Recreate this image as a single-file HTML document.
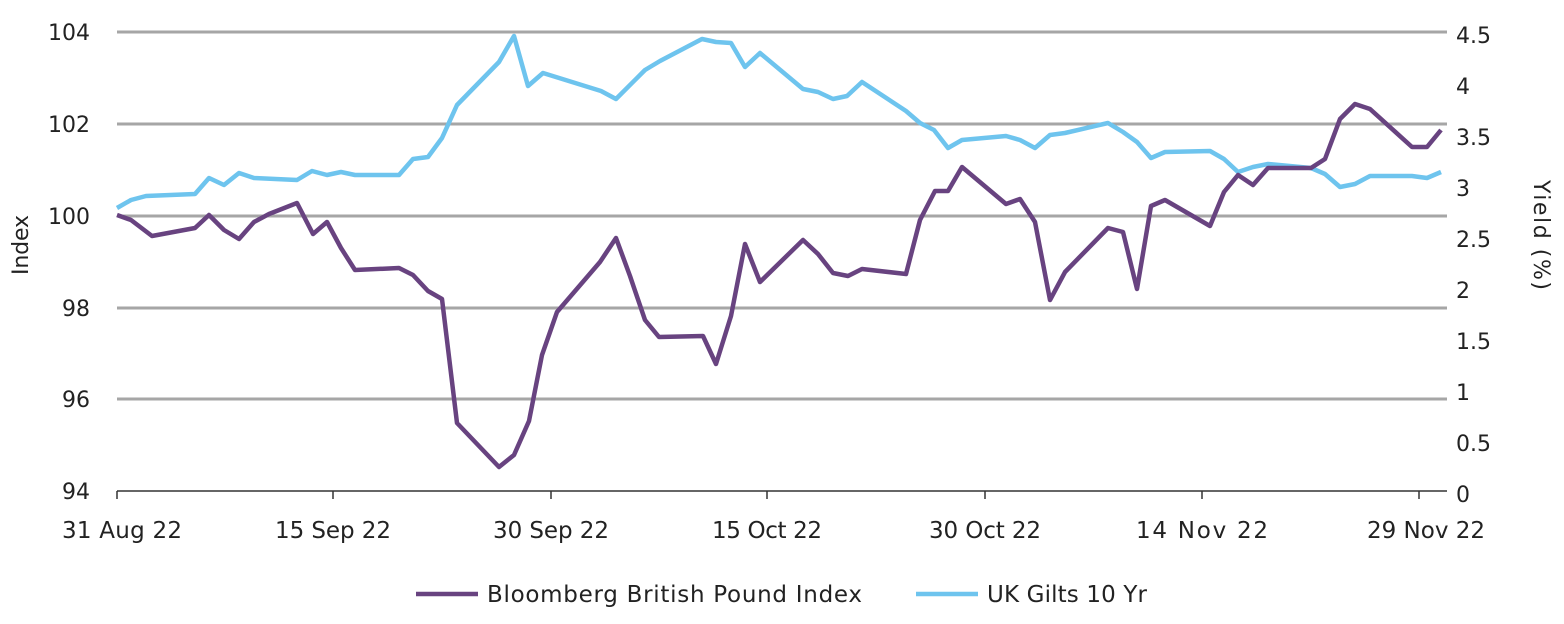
<!DOCTYPE html>
<html><head><meta charset="utf-8"><style>
html,body{margin:0;padding:0;background:#fff;}
svg{display:block;font-family:"DejaVu Sans","Liberation Sans",sans-serif;}
</style></head><body>
<svg width="1564" height="624" viewBox="0 0 1564 624" xmlns="http://www.w3.org/2000/svg">
<g stroke="#a6a6a6" stroke-width="3">
<line x1="117" y1="32" x2="1447" y2="32"/>
<line x1="117" y1="124" x2="1447" y2="124"/>
<line x1="117" y1="216" x2="1447" y2="216"/>
<line x1="117" y1="308" x2="1447" y2="308"/>
<line x1="117" y1="399" x2="1447" y2="399"/>
</g>
<g stroke="#333" stroke-width="1.5">
<line x1="117" y1="491" x2="1447" y2="491"/>
<line x1="117" y1="491" x2="117" y2="499"/>
<line x1="333" y1="491" x2="333" y2="499"/>
<line x1="551" y1="491" x2="551" y2="499"/>
<line x1="767" y1="491" x2="767" y2="499"/>
<line x1="985" y1="491" x2="985" y2="499"/>
<line x1="1202" y1="491" x2="1202" y2="499"/>
<line x1="1419" y1="491" x2="1419" y2="499"/>
</g>
<g font-size="22" fill="#222" text-anchor="end">
<text x="90" y="40">104</text><text x="90" y="132">102</text><text x="90" y="224">100</text>
<text x="90" y="316">98</text><text x="90" y="407">96</text><text x="90" y="499">94</text>
</g>
<g font-size="22" fill="#222" text-anchor="start">
<text x="1456" y="43">4.5</text><text x="1456" y="94">4</text><text x="1456" y="145">3.5</text>
<text x="1456" y="196">3</text><text x="1456" y="247">2.5</text><text x="1456" y="298">2</text>
<text x="1456" y="349">1.5</text><text x="1456" y="400">1</text><text x="1456" y="451">0.5</text>
<text x="1456" y="502">0</text>
</g>
<g font-size="23" fill="#222" text-anchor="middle">
<text x="122" y="538" textLength="120">31 Aug 22</text><text x="333" y="538" textLength="116">15 Sep 22</text><text x="551" y="538" textLength="116">30 Sep 22</text>
<text x="767" y="538" textLength="110">15 Oct 22</text><text x="985" y="538" textLength="112">30 Oct 22</text><text x="1202" y="538" textLength="132">14 Nov 22</text>
<text x="1426" y="538" textLength="118">29 Nov 22</text>
</g>
<text transform="translate(28,245) rotate(-90)" font-size="22" fill="#222" text-anchor="middle" textLength="60">Index</text>
<text transform="translate(1534,235) rotate(90)" font-size="22" fill="#222" text-anchor="middle" textLength="110">Yield (%)</text>
<polyline fill="none" stroke="#6ec4ee" stroke-width="4.5" stroke-linejoin="round" points="117,208 131,200 146,196 195,194 209,178 224,185 239,173 254,178 297,180 312,171 327,175 341,172 355,175 399,175 413,159 428,157 442,138 457,105 499,62 514,36 528,86 543,73 601,91 616,99 645,70 660,61 702,39 716,42 731,43 745,67 760,53 803,89 818,92 833,99 847,96 862,82 906,111 920,123 934,130 948,148 962,140 1006,136 1020,140 1035,148 1050,135 1065,133 1108,123 1123,132 1137,142 1151,158 1165,152 1210,151 1224,159 1238,172 1253,167 1268,164 1311,168 1325,174 1340,187 1355,184 1370,176 1412,176 1427,178 1441,172"/>
<polyline fill="none" stroke="#684380" stroke-width="4.5" stroke-linejoin="round" points="117,215 131,220 152,236 195,228 209,215 224,230 239,239 254,222 269,214 297,203 313,234 327,222 341,248 355,270 399,268 413,275 428,291 442,299 457,423 499,467 514,455 529,421 542,355 557,312 600,262 616,238 630,276 645,320 659,337 703,336 716,364 731,316 745,244 760,282 803,240 818,254 833,273 848,276 862,269 906,274 920,220 935,191 948,191 962,167 1006,204 1020,199 1035,222 1050,300 1065,272 1108,228 1123,232 1137,289 1151,206 1165,200 1210,226 1224,192 1238,175 1253,185 1268,168 1311,168 1325,159 1340,119 1355,104 1370,109 1412,147 1427,147 1441,130"/>
<line x1="416" y1="594" x2="478" y2="594" stroke="#684380" stroke-width="4.5"/>
<text x="487" y="602" font-size="23" fill="#222" textLength="375">Bloomberg British Pound Index</text>
<line x1="916" y1="594" x2="978" y2="594" stroke="#6ec4ee" stroke-width="4.5"/>
<text x="987" y="602" font-size="23" fill="#222" textLength="160">UK Gilts 10 Yr</text>
</svg>
</body></html>
